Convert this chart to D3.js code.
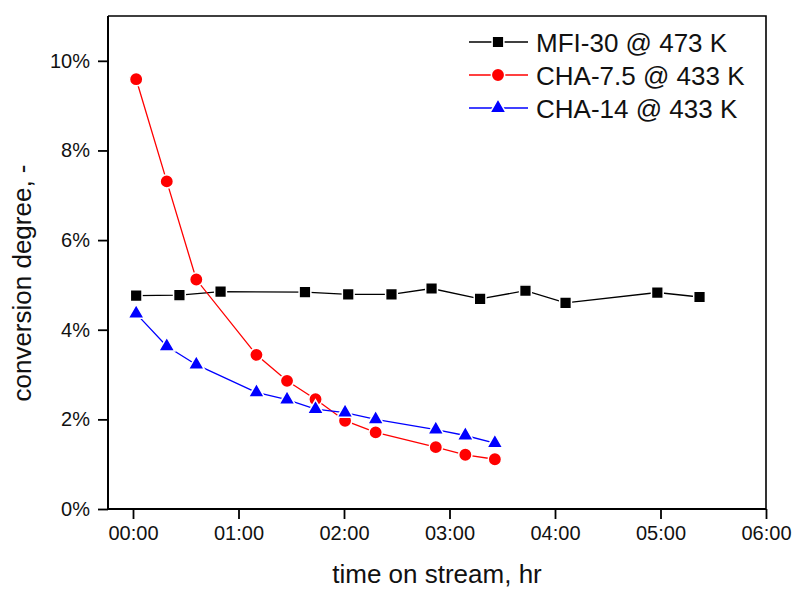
<!DOCTYPE html>
<html>
<head>
<meta charset="utf-8">
<script src="https://cdn.jsdelivr.net/npm/d3@7"></script>
<style>
  body { margin: 0; background: #fff; }
  svg { display: block; font-family: "Liberation Sans", Arial, sans-serif; }
</style>
</head>
<body>
<div id="chart"></div>
<script>
// time on stream in hours, conversion in %
const mfiTime = [0.03, 0.44, 0.83, 1.63, 2.04, 2.45, 2.83, 3.29, 3.72, 4.10, 4.97, 5.37];
const mfiConv = [4.76, 4.77, 4.85, 4.84, 4.79, 4.79, 4.92, 4.69, 4.87, 4.60, 4.83, 4.73];

const chaTime = [0.03, 0.32, 0.60, 1.17, 1.46, 1.73, 2.01, 2.30, 2.87, 3.15, 3.43];
const cha75Conv = [9.59, 7.31, 5.12, 3.44, 2.86, 2.45, 1.97, 1.71, 1.38, 1.21, 1.11];
const cha14Conv = [4.36, 3.63, 3.22, 2.60, 2.44, 2.23, 2.15, 2.00, 1.77, 1.64, 1.47];

const seriesNames = ["MFI-30 @ 473 K", "CHA-7.5 @ 433 K", "CHA-14 @ 433 K"];
const xTicks = [0, 1, 2, 3, 4, 5, 6];
const yTicks = [0, 2, 4, 6, 8, 10];

const series = [
    { name: seriesNames[0], x: mfiTime, y: mfiConv, color: "#000000", symbol: d3.symbolSquare, size: 137 },
    { name: seriesNames[1], x: chaTime, y: cha75Conv, color: "#ff0000", symbol: d3.symbolCircle, size: 140 },
    { name: seriesNames[2], x: chaTime, y: cha14Conv, color: "#0000ff", symbol: d3.symbolTriangle, size: 112 },
];

const width = 794, height = 590;
const margin = { left: 108, right: 28, top: 16, bottom: 81 };

const svg = d3.select("#chart").append("svg")
    .attr("width", width)
    .attr("height", height);

const xScale = d3.scaleLinear()
    .domain([-0.237, 6])
    .range([margin.left, width - margin.right]);

const yScale = d3.scaleLinear()
    .domain([0, 11])
    .range([height - margin.bottom, margin.top]);

const fmtHour = (h) => `${String(h).padStart(2, "0")}:00`;

// frame (top and right)
svg.append("path")
    .attr("d", `M${margin.left},${margin.top}H${width - margin.right}V${height - margin.bottom}`)
    .attr("fill", "none")
    .attr("stroke", "#000")
    .attr("stroke-width", 1.6);

// x axis: minor then major ticks
const xAxis = svg.append("g")
    .attr("transform", `translate(0,${height - margin.bottom})`);
xAxis.call(d3.axisBottom(xScale).tickValues(d3.range(0, 6.01, 0.5)).tickSize(6).tickFormat(""));
xAxis.call(d3.axisBottom(xScale).tickValues(xTicks).tickSize(10).tickPadding(7).tickFormat(fmtHour));

// y axis
const yAxis = svg.append("g")
    .attr("transform", `translate(${margin.left},0)`);
yAxis.call(d3.axisLeft(yScale).tickValues(d3.range(1, 11, 2)).tickSize(6).tickFormat(""));
yAxis.call(d3.axisLeft(yScale).tickValues(yTicks).tickSize(10).tickPadding(8).tickFormat(d => `${d}%`));

xAxis.selectAll(".domain").remove();
yAxis.selectAll(".domain").remove();
svg.append("path")
    .attr("d", `M${margin.left},${margin.top}V${height - margin.bottom}H${width - margin.right}`)
    .attr("fill", "none")
    .attr("stroke", "#000")
    .attr("stroke-width", 2);

svg.selectAll(".tick line").attr("stroke-width", 1.8);
svg.selectAll(".tick text")
    .attr("font-size", 20)
    .attr("font-family", "Liberation Sans, Arial, sans-serif")
    .attr("fill", "#111");

// axis titles
svg.append("text")
    .attr("x", (margin.left + width - margin.right) / 2)
    .attr("y", 583)
    .attr("text-anchor", "middle")
    .attr("font-size", 26)
    .attr("fill", "#111")
    .text("time on stream, hr");

svg.append("text")
    .attr("transform", `translate(31,283) rotate(-90)`)
    .attr("text-anchor", "middle")
    .attr("font-size", 26)
    .attr("fill", "#111")
    .text("conversion degree, -");

// series
const line = d3.line().x(d => xScale(d[0])).y(d => yScale(d[1]));

series.forEach(s => {
    const pts = s.x.map((t, i) => [t, s.y[i]]);
    svg.append("path")
        .datum(pts)
        .attr("d", line)
        .attr("fill", "none")
        .attr("stroke", s.color)
        .attr("stroke-width", 1.3);
    svg.append("g").selectAll("path")
        .data(pts)
        .enter()
        .append("path")
        .attr("d", d3.symbol().type(s.symbol).size(s.size))
        .attr("transform", d => `translate(${xScale(d[0])},${yScale(d[1])})`)
        .attr("fill", s.color)
        .attr("stroke", "#fff")
        .attr("stroke-width", 1.5);
});

// legend
const legend = svg.append("g");
const rowY = [42, 75, 108];
series.forEach((s, i) => {
    const g = legend.append("g").attr("transform", `translate(0,${rowY[i]})`);
    g.append("line")
        .attr("x1", 469).attr("x2", 528)
        .attr("stroke", s.color)
        .attr("stroke-width", 1.3);
    g.append("path")
        .attr("d", d3.symbol().type(s.symbol).size(s.size))
        .attr("transform", "translate(498,0)")
        .attr("fill", s.color)
        .attr("stroke", "#fff")
        .attr("stroke-width", 1.5);
    g.append("text")
        .attr("x", 536)
        .attr("y", 9.5)
        .attr("font-size", 26)
        .attr("fill", "#111")
        .text(s.name);
});
</script>
</body>
</html>
